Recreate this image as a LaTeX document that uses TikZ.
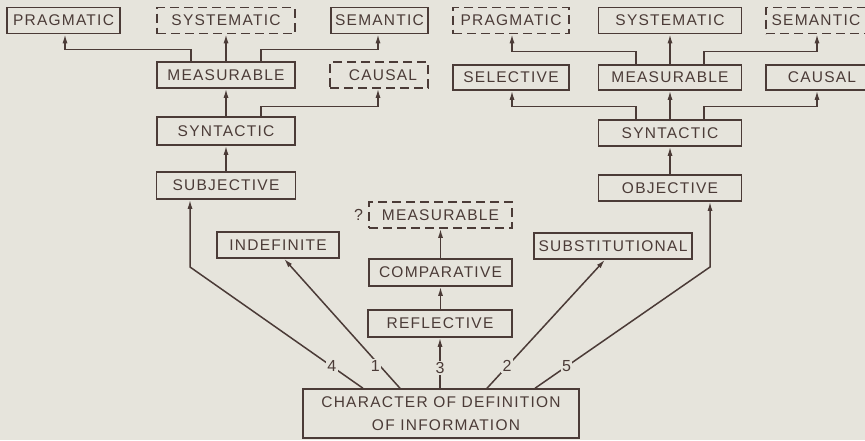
\documentclass[tikz,border=0pt]{standalone}
\usepackage{fontspec}
\setmainfont{Liberation Sans}[LetterSpace=8]
\usetikzlibrary{arrows.meta}
\definecolor{paper}{HTML}{E6E4DC}
\definecolor{ink}{HTML}{4B3B37}
\tikzset{
  box/.style={draw=ink, line width=1.5pt, text=ink, inner sep=0pt,
    minimum height=26pt, font=\fontsize{15.5}{23}\selectfont},
  dbox/.style={box, dash pattern=on 9pt off 5pt},
  arr/.style={draw=ink, line width=1.5pt, -{Latex[length=9pt,width=5pt]}},
  lbl/.style={fill=paper, text=ink, inner sep=1.5pt, font=\fontsize{16}{18}\selectfont},
}
\begin{document}
\begin{tikzpicture}[x=1pt, y=-1pt]
\fill[paper] (0,0) rectangle (865,440);
\useasboundingbox (0,0) rectangle (865,440);

% left branch
\node[box,  minimum width=113pt] (pragL) at (63.5,20.5) {PRAGMATIC};
\node[dbox, minimum width=138pt] (sysL)  at (226,20.5)  {SYSTEMATIC};
\node[box,  minimum width=97pt]  (semL)  at (379.5,20.5){SEMANTIC};
\node[box,  minimum width=138pt] (measL) at (226,75)    {MEASURABLE};
\node[dbox, minimum width=98pt]  (causL) at (379,75)    {\hspace*{8pt}CAUSAL};
\node[box,  minimum width=138pt, minimum height=28pt] (synL) at (226,131) {SYNTACTIC};
\node[box,  minimum width=139pt, minimum height=27pt] (subj) at (226,185.5) {SUBJECTIVE};
\node[box,  minimum width=122pt] (indef) at (278,245) {INDEFINITE};

% right branch
\node[dbox, minimum width=116pt] (pragR) at (511,20.5) {PRAGMATIC};
\node[box,  minimum width=143pt] (sysR)  at (670,20.5) {SYSTEMATIC};
\node[dbox, minimum width=100pt] (semR)  at (816,20.5) {SEMANTIC};
\node[box,  minimum width=116pt, minimum height=25pt] (sel) at (511,77.5) {SELECTIVE};
\node[box,  minimum width=143pt, minimum height=25pt] (measR) at (670,77.5) {MEASURABLE};
\node[box,  minimum width=100pt, minimum height=25pt] (causR) at (816,77.5) {\hspace*{12pt}CAUSAL};
\node[box,  minimum width=143pt] (synR) at (670,133) {SYNTACTIC};
\node[box,  minimum width=143pt] (obj)  at (670,188) {OBJECTIVE};
\node[box,  minimum width=158pt] (subst) at (613,246) {SUBSTITUTIONAL};

% middle column
\node[dbox, minimum width=143pt] (measQ) at (440.5,215) {MEASURABLE};
\node[text=ink, anchor=east, inner sep=0pt, font=\fontsize{16}{18}\selectfont] (qmark) at ([xshift=-5pt]measQ.west) {?};
\node[box, minimum width=143pt, minimum height=27pt] (comp) at (440.5,272.5) {COMPARATIVE};
\node[box, minimum width=144pt, minimum height=27pt] (refl) at (440,323.5) {REFLECTIVE};
\node[box, minimum width=276pt, minimum height=49pt, align=center] (char) at (441,413.5)
  {CHARACTER OF DEFINITION\\\hspace*{10pt}OF INFORMATION};

% bends of the outer lines
\coordinate (b4) at (190,267);
\coordinate (b5) at (710,267);

% left tree connectors
\draw[arr] (subj.north) -- (synL.south);
\draw[arr] (synL.north) -- (measL.south);
\draw[arr] (measL.north) -- (sysL.south);
\draw[arr] ([xshift=-35pt]measL.north) -- ++(0,-12) -| ([xshift=1.5pt]pragL.south);
\draw[arr] ([xshift=35pt]measL.north) -- ++(0,-12) -| ([xshift=-1.5pt]semL.south);
\draw[arr] ([xshift=35pt]synL.north) -- ++(0,-10) -| ([xshift=-1pt]causL.south);

% right tree connectors
\draw[arr] (obj.north) -- (synR.south);
\draw[arr] (synR.north) -- (measR.south);
\draw[arr] (measR.north) -- (sysR.south);
\draw[arr] ([xshift=-34pt]measR.north) -- ++(0,-13) -| ([xshift=1pt]pragR.south);
\draw[arr] ([xshift=34pt]measR.north) -- ++(0,-13) -| ([xshift=1pt]semR.south);
\draw[arr] ([xshift=-34pt]synR.north) -- ++(0,-13) -| ([xshift=1pt]sel.south);
\draw[arr] ([xshift=34pt]synR.north) -- ++(0,-13) -| ([xshift=1pt]causR.south);

% middle column connectors
\draw[arr] (comp.north) -- (measQ.south);
\draw[arr] (refl.north) -- (refl.north -| comp.south) -- (comp.south);
\draw[arr] (char.north -| refl.south) -- node[lbl, pos=0.4] {3} (refl.south);

% numbered lines from the root
\draw[arr] ([xshift=-78pt]char.north) -- node[lbl, pos=0.18] {4} (b4) -- ([xshift=-36pt]subj.south);
\draw[arr] ([xshift=-41pt]char.north) -- node[lbl, pos=0.17, xshift=-5pt] {1} ([xshift=6pt]indef.south);
\draw[arr] ([xshift=46pt]char.north) -- node[lbl, pos=0.17] {2} ([xshift=-8pt]subst.south);
\draw[arr] ([xshift=94pt]char.north) -- node[lbl, pos=0.18] {5} (b5) -- ([xshift=40pt]obj.south);
\end{tikzpicture}
\end{document}
